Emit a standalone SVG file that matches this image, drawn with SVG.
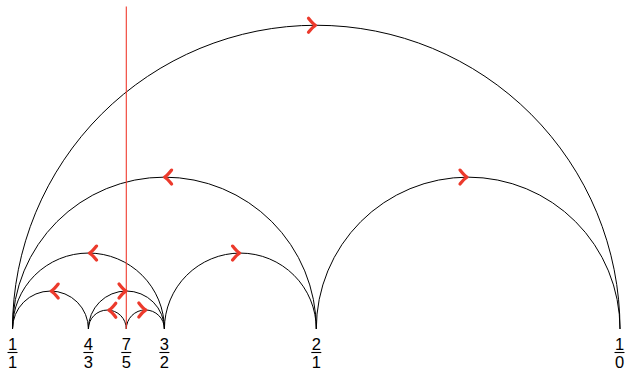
<svg xmlns="http://www.w3.org/2000/svg" xmlns:xlink="http://www.w3.org/1999/xlink" width="625" height="370" viewBox="0 0 625 370">
  <style>
    .arc { fill: none; stroke: #000; stroke-width: 1; }
    .dir { fill: none; stroke: #ec3a2c; stroke-width: 3.2; stroke-linecap: round; stroke-linejoin: round; }
    .lbl { font-family: "Liberation Sans", "DejaVu Sans", sans-serif; font-size: 16.5px; text-anchor: middle; fill: #000; }
    .bar { stroke: #000; stroke-width: 1.1; }
    .ray { stroke: #f03a2e; stroke-width: 1.1; }
  </style>
  <defs>
    <!-- direction chevron, tip at origin, pointing to +x -->
    <path id="chev" class="dir" d="M-7,-7 Q-2.8,-1.6 0,0 Q-2.8,1.6 -7,7"/>
  </defs>
  <rect width="625" height="370" fill="#fff"/>

  <!-- geodesic arcs between neighbouring fractions -->
  <g id="connectors">
    <path class="arc" d="M12.5,329 A303.75,303.75 0 0 1 620,329"/>
    <path class="arc" d="M12.5,329 A151.9,151.9 0 0 1 316.3,329"/>
    <path class="arc" d="M316.3,329 A151.85,151.85 0 0 1 620,329"/>
    <path class="arc" d="M12.5,329 A75.95,75.95 0 0 1 164.4,329"/>
    <path class="arc" d="M164.4,329 A75.95,75.95 0 0 1 316.3,329"/>
    <path class="arc" d="M12.5,329 A37.95,37.95 0 0 1 88.4,329"/>
    <path class="arc" d="M88.4,329 A38,38 0 0 1 164.4,329"/>
    <path class="arc" d="M88.4,329 A18.95,18.95 0 0 1 126.3,329"/>
    <path class="arc" d="M126.3,329 A19.05,19.05 0 0 1 164.4,329"/>

    <!-- orientation marks at the arc tops -->
    <use xlink:href="#chev" transform="translate(315.5,25.3)"/>
    <use xlink:href="#chev" transform="translate(164.6,177.1) scale(-1,1)"/>
    <use xlink:href="#chev" transform="translate(467,177.1)"/>
    <use xlink:href="#chev" transform="translate(89.5,253.1) scale(-1,1)"/>
    <use xlink:href="#chev" transform="translate(239.6,253.1)"/>
    <use xlink:href="#chev" transform="translate(51.2,291.1) scale(-1,1)"/>
    <use xlink:href="#chev" transform="translate(126,291)"/>
    <use xlink:href="#chev" transform="translate(108.8,310.2) scale(-1,1)"/>
    <use xlink:href="#chev" transform="translate(145.8,310)"/>

    <!-- vertical ray above 7/5 -->
    <line class="ray" x1="126.3" y1="6.5" x2="126.3" y2="329"/>
  </g>

  <!-- fraction labels on the baseline -->
  <g id="n-1-1">
    <text class="lbl" x="12.5" y="350">1</text>
    <line class="bar" x1="7.5" y1="352.5" x2="17.5" y2="352.5"/>
    <text class="lbl" x="12.5" y="367.5">1</text>
  </g>
  <g id="n-4-3">
    <text class="lbl" x="88.4" y="350">4</text>
    <line class="bar" x1="83.4" y1="352.5" x2="93.4" y2="352.5"/>
    <text class="lbl" x="88.4" y="367.5">3</text>
  </g>
  <g id="n-7-5">
    <text class="lbl" x="126.3" y="350">7</text>
    <line class="bar" x1="121.3" y1="352.5" x2="131.3" y2="352.5"/>
    <text class="lbl" x="126.3" y="367.5">5</text>
  </g>
  <g id="n-3-2">
    <text class="lbl" x="164.4" y="350">3</text>
    <line class="bar" x1="159.4" y1="352.5" x2="169.4" y2="352.5"/>
    <text class="lbl" x="164.4" y="367.5">2</text>
  </g>
  <g id="n-2-1">
    <text class="lbl" x="316.3" y="350">2</text>
    <line class="bar" x1="311.3" y1="352.5" x2="321.3" y2="352.5"/>
    <text class="lbl" x="316.3" y="367.5">1</text>
  </g>
  <g id="n-1-0">
    <text class="lbl" x="619.5" y="350">1</text>
    <line class="bar" x1="614.5" y1="352.5" x2="624.5" y2="352.5"/>
    <text class="lbl" x="619.5" y="367.5">0</text>
  </g>
</svg>
